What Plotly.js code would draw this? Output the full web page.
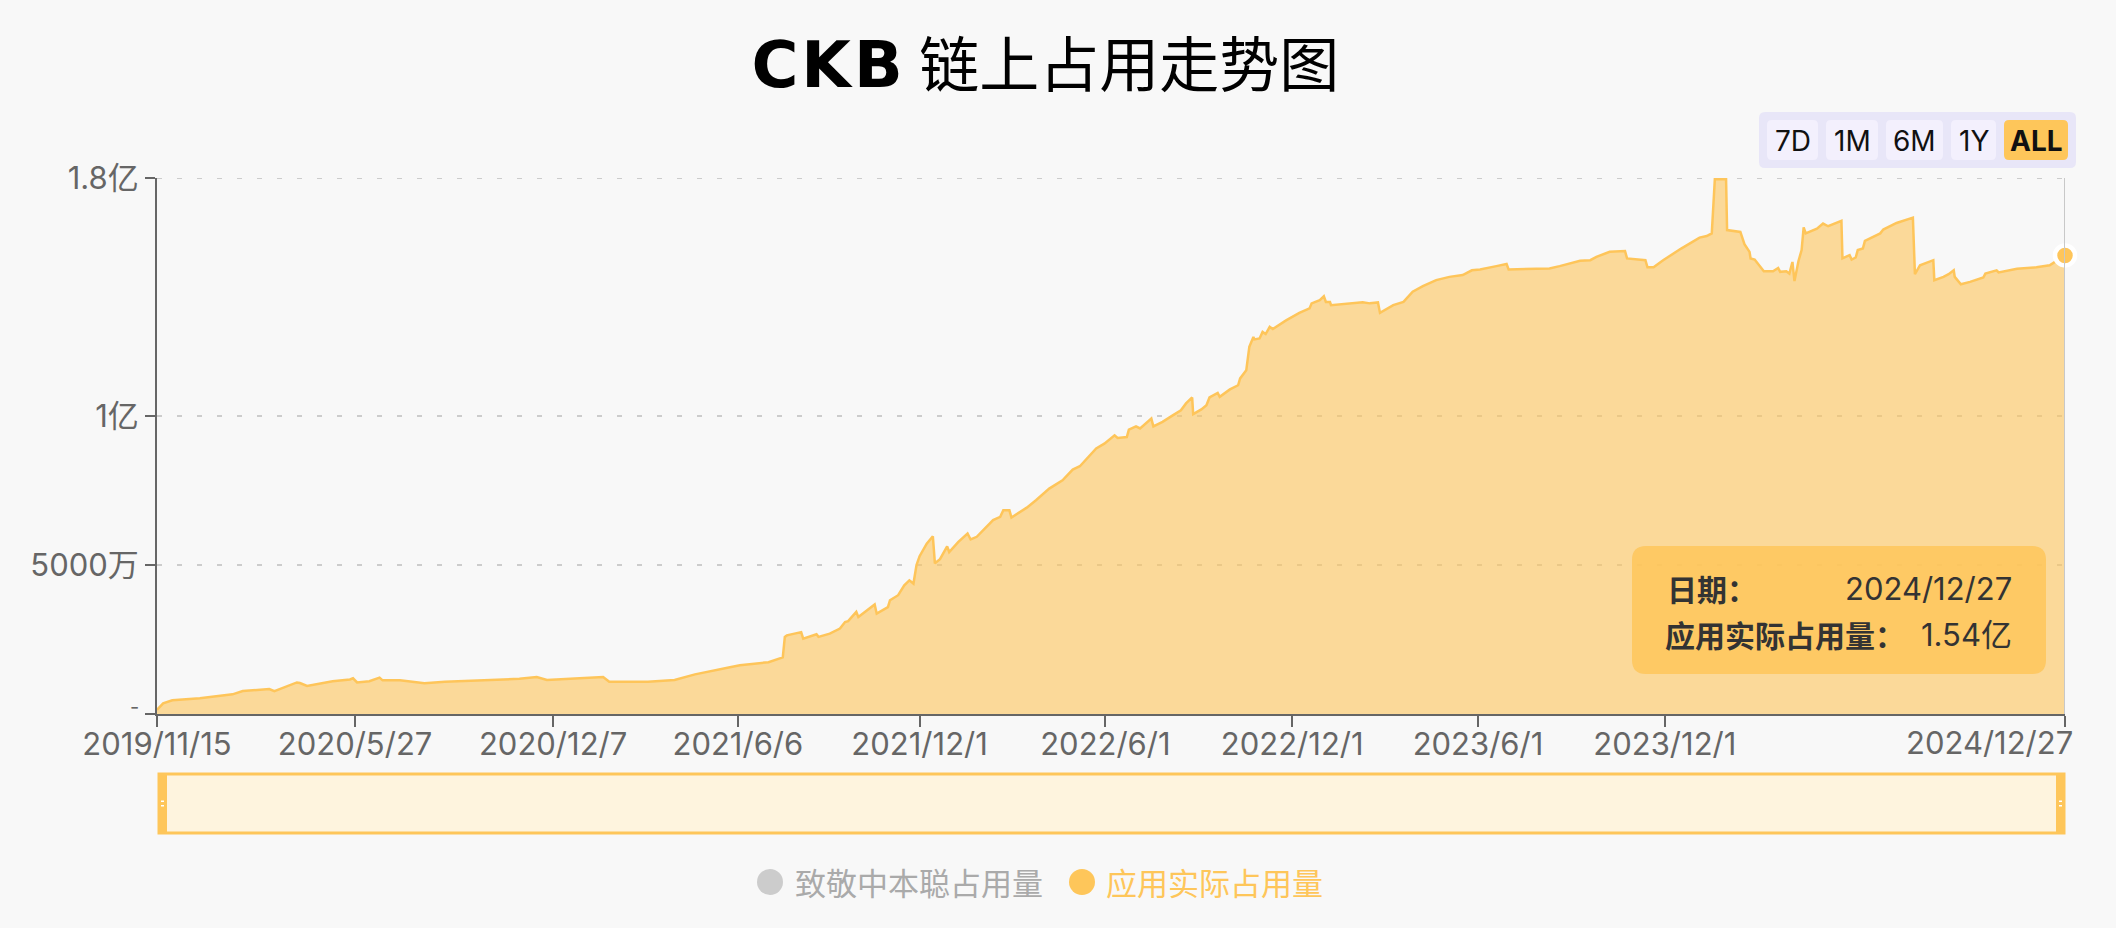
<!DOCTYPE html>
<html>
<head>
<meta charset="utf-8">
<script src="https://cdn.plot.ly/plotly-3.0.1.min.js"></script>
<style>
html,body{margin:0;padding:0;background:#f8f8f8;}
#chart{width:2116px;height:928px;}
</style>
</head>
<body>
<div id="chart"></div>
<script>
// ---- data (values in millions, 百万) ----
const dates = [
 '2019-11-15','2019-11-21','2019-11-30','2019-12-27','2020-01-28','2020-02-07','2020-03-04','2020-03-09','2020-03-31','2020-04-03',
 '2020-04-10','2020-04-19','2020-05-05','2020-05-22','2020-05-25','2020-05-29','2020-06-10','2020-06-20','2020-06-23','2020-07-10',
 '2020-08-03','2020-08-23','2020-10-02','2020-11-04','2020-11-21','2020-12-01','2021-01-02','2021-01-25','2021-01-31','2021-03-10',
 '2021-04-05','2021-04-25','2021-05-28','2021-06-08','2021-07-06','2021-07-20',
 '2021-07-22','2021-07-24','2021-08-07','2021-08-09','2021-08-22','2021-08-24','2021-09-04','2021-09-14','2021-09-19','2021-09-22',
 '2021-09-30','2021-10-02','2021-10-18','2021-10-20','2021-10-31','2021-11-02','2021-11-10','2021-11-16','2021-11-21','2021-11-25',
 '2021-11-28','2021-12-01','2021-12-08','2021-12-14','2021-12-16','2021-12-21','2021-12-28','2021-12-30',
 '2022-01-08','2022-01-17','2022-01-20','2022-01-26','2022-02-11','2022-02-18','2022-02-21','2022-02-27','2022-03-01','2022-03-16',
 '2022-03-25','2022-04-07','2022-04-20','2022-04-30','2022-05-07','2022-05-23','2022-05-31','2022-06-10','2022-06-13','2022-06-22',
 '2022-06-24','2022-07-01','2022-07-05','2022-07-16','2022-07-18','2022-07-27','2022-08-06','2022-08-14','2022-08-19','2022-08-25',
 '2022-08-26','2022-09-03','2022-09-08','2022-09-11','2022-09-19','2022-09-21','2022-10-01','2022-10-09','2022-10-11','2022-10-17',
 '2022-10-20','2022-10-24','2022-10-25','2022-10-30','2022-11-02','2022-11-05','2022-11-09','2022-11-12','2022-11-25','2022-12-08',
 '2022-12-18','2022-12-20','2022-12-28',
 '2023-01-01','2023-01-03','2023-01-07','2023-01-08','2023-01-23','2023-02-08','2023-02-15','2023-02-23','2023-02-25','2023-03-10',
 '2023-03-20','2023-03-29','2023-04-08','2023-04-21','2023-05-04','2023-05-17','2023-05-26','2023-06-03','2023-06-19','2023-06-29',
 '2023-07-01','2023-07-22','2023-08-10','2023-08-20','2023-09-09','2023-09-19','2023-09-25','2023-10-08','2023-10-23','2023-10-25',
 '2023-11-07','2023-11-12','2023-11-14','2023-11-20','2023-11-29','2023-12-17',
 '2024-01-04','2024-01-11','2024-01-16','2024-01-19','2024-01-30','2024-01-31','2024-02-13','2024-02-14','2024-02-17','2024-02-22',
 '2024-02-23','2024-02-27','2024-03-02','2024-03-07','2024-03-16','2024-03-21','2024-03-23','2024-03-29','2024-04-01','2024-04-04',
 '2024-04-06','2024-04-10','2024-04-13','2024-04-15','2024-04-17','2024-04-28','2024-05-04','2024-05-09','2024-05-22','2024-05-23',
 '2024-05-30','2024-06-01','2024-06-05','2024-06-07','2024-06-12','2024-06-14','2024-06-29','2024-07-02','2024-07-15','2024-07-30',
 '2024-07-31','2024-08-02','2024-08-07','2024-08-20','2024-08-21','2024-08-30','2024-09-04','2024-09-09','2024-09-10','2024-09-16',
 '2024-09-25','2024-10-08','2024-10-10','2024-10-21','2024-10-23','2024-11-10','2024-11-29','2024-12-12','2024-12-27'
];
const usageMillions = [
 1.4,3.6,4.6,5.3,6.6,7.7,8.4,7.7,10.6,10.4,
 9.4,10.0,11.0,11.6,12.0,10.6,11.0,12.2,11.3,11.3,
 10.3,10.8,11.4,11.8,12.4,11.4,12.0,12.4,10.8,10.8,
 11.4,13.3,15.6,16.4,17.4,19.0,
 25.9,26.4,27.5,25.3,26.8,25.9,27.0,28.7,30.9,31.2,
 34.3,32.6,36.8,33.7,35.9,38.2,39.9,43.2,44.9,43.8,
 50.0,53.0,57.2,59.7,50.6,52.0,56.3,54.4,
 57.8,60.6,58.6,59.5,65.1,66.2,68.4,68.4,66.0,69.3,
 71.8,75.7,78.5,82.1,83.2,89.2,90.8,93.6,92.7,93.0,
 95.5,96.6,95.9,99.2,96.6,98.1,100.3,102.0,104.3,106.3,
 100.7,102.3,103.7,106.3,107.8,106.5,109.0,110.4,112.7,115.4,
 123.3,126.6,125.8,126.1,128.3,127.6,130.0,129.3,132.2,134.7,
 136.2,137.9,139.0,
 140.3,138.4,138.4,137.3,137.9,138.3,137.9,138.2,134.7,137.3,
 138.4,141.8,143.7,145.7,146.8,147.4,149.0,149.3,150.4,151.1,
 149.3,149.4,149.6,150.4,152.2,152.4,153.5,155.2,155.5,153.0,
 152.6,152.4,150.0,150.0,152.3,156.3,
 160.0,160.5,161.4,179.6,179.6,162.5,161.9,160.8,157.8,155.2,
 153.0,152.6,150.7,148.7,148.7,149.8,148.5,148.7,147.9,151.8,
 145.4,152.2,155.8,163.4,161.4,163.0,164.7,163.8,165.6,153.0,
 154.1,152.6,153.3,155.8,156.3,158.9,161.4,162.7,164.9,166.7,
 166.7,147.7,150.7,152.4,145.7,146.8,147.7,149.0,146.8,144.3,
 145.1,146.6,147.9,149.0,148.3,149.5,150.0,150.7,154.0
];
const xTickVals = ['2019-11-15','2020-05-27','2020-12-07','2021-06-06','2021-12-01','2022-06-01','2022-12-01','2023-06-01','2023-12-01','2024-12-27'];
const xTickText = ['2019/11/15','2020/5/27','2020/12/7','2021/6/6','2021/12/1','2022/6/1','2022/12/1','2023/6/1','2023/12/1',''];
const lastTickLabel = '2024/12/27';
const yTickVals = [0, 5e7, 1e8, 1.8e8];
const yTickText = ['', '5000万', '1亿', '1.8亿'];
const zeroTickLabel = '-';
const seriesNames = ['致敬中本聪占用量', '应用实际占用量'];
const rangeButtons = ['7D', '1M', '6M', '1Y', 'ALL'];
const tooltipDate = '2024/12/27';
const tooltipValue = '1.54亿';

const yVals = usageMillions.map(v => v * 1e6);

// ---- layout helpers (pixel -> paper) ----
const L = 157, R = 2065, T = 178, B = 714;
const W = R - L, H = B - T;
const px = x => (x - L) / W;
const py = y => (B - y) / H;
function rrect(x0, y0, x1, y1, r) {
  const X = px, Y = py;
  return `M ${X(x0+r)},${Y(y0)} L ${X(x1-r)},${Y(y0)} Q ${X(x1)},${Y(y0)} ${X(x1)},${Y(y0+r)} ` +
         `L ${X(x1)},${Y(y1-r)} Q ${X(x1)},${Y(y1)} ${X(x1-r)},${Y(y1)} ` +
         `L ${X(x0+r)},${Y(y1)} Q ${X(x0)},${Y(y1)} ${X(x0)},${Y(y1-r)} ` +
         `L ${X(x0)},${Y(y0+r)} Q ${X(x0)},${Y(y0)} ${X(x0+r)},${Y(y0)} Z`;
}

const YELLOW = 'rgb(254,197,90)';
const FONT = 'Inter, "Noto Sans CJK SC", sans-serif';
const CJK = '"Noto Sans CJK SC", Inter, sans-serif';

const lastIdx = dates.length - 1;

const traces = [
  {
    type: 'scatter', mode: 'lines', name: seriesNames[1],
    x: dates, y: yVals,
    line: {color: YELLOW, width: 2.5, shape: 'linear'},
    fill: 'tozeroy', fillcolor: 'rgba(254,197,90,0.6)',
    showlegend: false, hoverinfo: 'x+y'
  },
  {
    type: 'scatter', mode: 'markers', name: seriesNames[1],
    x: [dates[lastIdx]], y: [yVals[lastIdx]],
    marker: {color: YELLOW, size: 20, line: {color: '#ffffff', width: 4.5}},
    cliponaxis: false, showlegend: false, hoverinfo: 'skip'
  }
];

const shapes = [];
const annotations = [];

// top dashed gridline (at the 1.8亿 tick, on the plot edge)
shapes.push({type: 'line', xref: 'paper', yref: 'y', x0: 0, x1: 1, y0: yTickVals[3], y1: yTickVals[3],
  line: {color: '#cccccc', width: 2, dash: '5px,15px'}, layer: 'below'});

// hover cursor line
shapes.push({type: 'line', xref: 'x', yref: 'paper', x0: dates[lastIdx], x1: dates[lastIdx], y0: 0, y1: 1,
  line: {color: '#c8c8c8', width: 2}, layer: 'above'});

// zero tick label ("-")
annotations.push({xref: 'paper', yref: 'y', x: px(141), y: yTickVals[0], yshift: -7, text: zeroTickLabel, showarrow: false,
  xanchor: 'right', yanchor: 'bottom', font: {family: FONT, size: 20, color: '#666'}});

// range buttons
shapes.push({type: 'path', xref: 'paper', yref: 'paper', path: rrect(1759, 112, 2076, 168, 6),
  fillcolor: '#e8e6f8', line: {width: 0}});
const btnBoxes = [[1767, 1818], [1826, 1878], [1886, 1943], [1951, 1996], [2004, 2068]];
rangeButtons.forEach((b, i) => {
  const [a, c] = btnBoxes[i];
  const active = b === 'ALL';
  shapes.push({type: 'path', xref: 'paper', yref: 'paper', path: rrect(a, 120, c, 160, 5),
    fillcolor: active ? '#fec65a' : '#f3f0fd', line: {width: 0}});
  annotations.push({xref: 'paper', yref: 'paper', x: px((a + c) / 2), y: py(141), text: active ? '<b>' + b + '</b>' : b,
    showarrow: false, xanchor: 'center', yanchor: 'middle', font: {family: FONT, size: 28, color: '#111'}});
});

// tooltip box
shapes.push({type: 'path', xref: 'paper', yref: 'paper', path: rrect(1632, 546, 2046, 674, 14),
  fillcolor: 'rgba(254,197,90,0.85)', line: {width: 0}});
annotations.push({xref: 'paper', yref: 'paper', x: px(1665), y: py(588), text: '<b>日期：</b>', showarrow: false,
  xanchor: 'left', yanchor: 'middle', font: {family: CJK, size: 30, color: '#333'}});
annotations.push({xref: 'paper', yref: 'paper', x: px(2014), y: py(588), text: tooltipDate, showarrow: false,
  xanchor: 'right', yanchor: 'middle', font: {family: FONT, size: 31, color: '#333'}});
annotations.push({xref: 'paper', yref: 'paper', x: px(1663), y: py(634), text: '<b>' + seriesNames[1] + '：</b>', showarrow: false,
  xanchor: 'left', yanchor: 'middle', font: {family: CJK, size: 30, color: '#333'}});
annotations.push({xref: 'paper', yref: 'paper', x: px(2014), y: py(634), text: tooltipValue, showarrow: false,
  xanchor: 'right', yanchor: 'middle', font: {family: FONT, size: 31, color: '#333'}});

// last x tick label (shifted to fit)
annotations.push({xref: 'paper', yref: 'paper', x: px(2075), y: py(742), text: lastTickLabel, showarrow: false,
  xanchor: 'right', yanchor: 'middle', font: {family: FONT, size: 31, color: '#666'}});

// data zoom slider
shapes.push({type: 'rect', xref: 'paper', yref: 'paper', x0: px(159), x1: px(2064), y0: py(833), y1: py(774),
  fillcolor: '#fef4de', line: {color: '#fec65a', width: 3}});
[[158, 167], [2056, 2065]].forEach(([a, c]) => {
  shapes.push({type: 'rect', xref: 'paper', yref: 'paper', x0: px(a), x1: px(c), y0: py(834), y1: py(773),
    fillcolor: '#fec65a', line: {width: 0}});
  shapes.push({type: 'rect', xref: 'paper', yref: 'paper', x0: px(a + 3), x1: px(c - 3), y0: py(802), y1: py(800.5),
    fillcolor: '#ffffff', line: {width: 0}});
  shapes.push({type: 'rect', xref: 'paper', yref: 'paper', x0: px(a + 3), x1: px(c - 3), y0: py(806.5), y1: py(805),
    fillcolor: '#ffffff', line: {width: 0}});
});

// legend
const legendItems = [
  {cx: 770, tx: 793, color: '#cccccc', textColor: '#aaaaaa', name: seriesNames[0]},
  {cx: 1082, tx: 1104, color: '#fec65a', textColor: '#fec65a', name: seriesNames[1]}
];
legendItems.forEach(it => {
  shapes.push({type: 'circle', xref: 'paper', yref: 'paper', x0: px(it.cx - 13), x1: px(it.cx + 13),
    y0: py(895), y1: py(869), fillcolor: it.color, line: {width: 0}});
  annotations.push({xref: 'paper', yref: 'paper', x: px(it.tx), y: py(881), text: it.name, showarrow: false,
    xanchor: 'left', yanchor: 'middle', font: {family: CJK, size: 31, color: it.textColor}});
});

const layout = {
  width: 2116, height: 928,
  paper_bgcolor: '#f8f8f8', plot_bgcolor: '#f8f8f8',
  margin: {l: L, r: 2116 - R, t: T, b: 928 - B, pad: 0},
  title: {
    text: '<span style="font-family:DejaVu Sans;font-weight:bold;font-size:64px;letter-spacing:3px">CKB</span> 链上占用走势图',
    x: 0.494, xref: 'container', xanchor: 'center', y: 1 - 66 / 928, yref: 'container', yanchor: 'middle',
    font: {family: CJK, size: 60, color: '#000'}
  },
  showlegend: false,
  xaxis: {
    type: 'date', range: [dates[0], dates[lastIdx]],
    tickmode: 'array', tickvals: xTickVals, ticktext: xTickText,
    ticks: 'outside', ticklen: 11, tickwidth: 1.5, tickcolor: '#666',
    ticklabelstandoff: -9,
    showline: true, linecolor: '#666', linewidth: 2,
    showgrid: false, zeroline: false,
    tickfont: {family: FONT, size: 31, color: '#666'},
    fixedrange: true
  },
  yaxis: {
    range: [0, 1.8e8],
    tickmode: 'array', tickvals: yTickVals, ticktext: yTickText,
    ticks: 'outside', ticklen: 10, tickwidth: 1.5, tickcolor: '#666',
    showline: true, linecolor: '#666', linewidth: 2,
    showgrid: true, gridcolor: '#cccccc', gridwidth: 2, griddash: '5px,15px',
    zeroline: false,
    tickfont: {family: FONT, size: 31, color: '#666'},
    fixedrange: true
  },
  shapes: shapes,
  annotations: annotations
};

Plotly.newPlot('chart', traces, layout, {displayModeBar: false, responsive: false});
</script>
</body>
</html>
